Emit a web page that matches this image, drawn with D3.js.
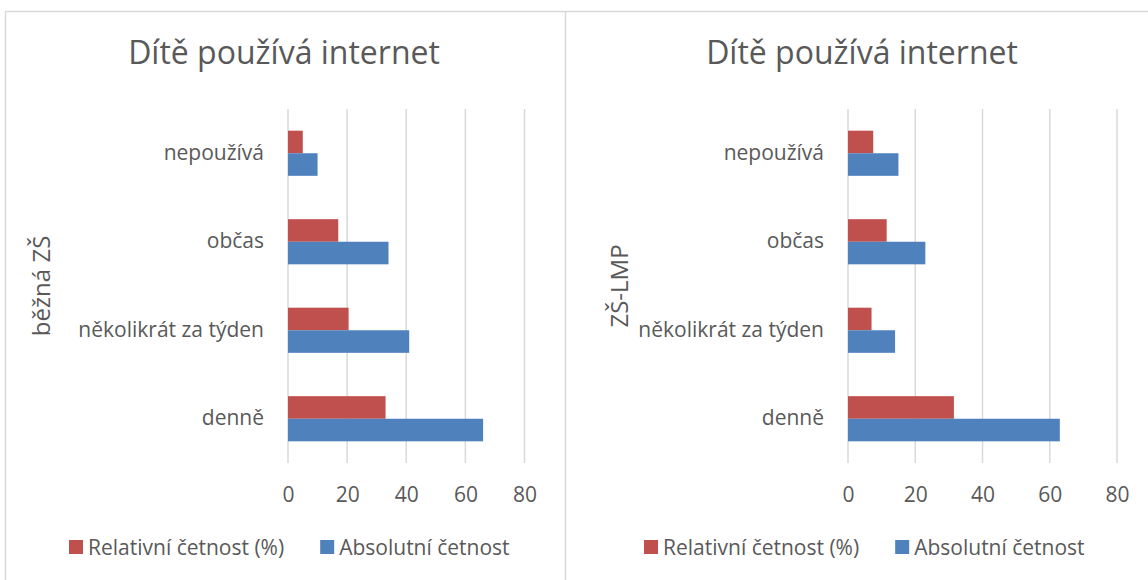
<!DOCTYPE html>
<html>
<head>
<meta charset="utf-8">
<script src="https://cdn.jsdelivr.net/npm/d3@7"></script>
<style>
  html, body { margin: 0; padding: 0; background: #ffffff; }
  svg { display: block; }
  text { font-family: "Open Sans", "Noto Sans", sans-serif; fill: #595959; }
</style>
</head>
<body>
<svg id="chart" width="1148" height="580"></svg>
<script>
// ---- data ----
const categories = ["nepoužívá", "občas", "několikrát za týden", "denně"];
const seriesNames = ["Relativní četnost (%)", "Absolutní četnost"];
const seriesColors = ["#C0504D", "#4F81BD"];
const relBezna = [5, 17, 20.5, 33];
const absBezna = [10, 34, 41, 66];
const relLMP = [7.5, 11.5, 7, 31.5];
const absLMP = [15, 23, 14, 63];
const xTicks = [0, 20, 40, 60, 80];
const chartTitle = "Dítě používá internet";
const axisTitles = ["běžná ZŠ", "ZŠ-LMP"];

const panels = [
  { rel: relBezna, abs: absBezna, axisTitle: axisTitles[0],
    x0: 288, x1: 524.5, titleX: 284, axisTitleX: 50, legendStart: 69 },
  { rel: relLMP, abs: absLMP, axisTitle: axisTitles[1],
    x0: 848, x1: 1117, titleX: 862, axisTitleX: 628, legendStart: 644 }
];

const svg = d3.select("#chart");
const border = "#d9d9d9";

// outer frames
svg.append("line").attr("x1", 5).attr("x2", 1148).attr("y1", 11.5).attr("y2", 11.5)
  .attr("stroke", border).attr("stroke-width", 1.5);
svg.append("line").attr("x1", 5.5).attr("x2", 5.5).attr("y1", 11).attr("y2", 580)
  .attr("stroke", border).attr("stroke-width", 1.5);
svg.append("line").attr("x1", 565.5).attr("x2", 565.5).attr("y1", 11).attr("y2", 580)
  .attr("stroke", border).attr("stroke-width", 1.5);

const yTop = 109, yBottom = 463;

panels.forEach(p => {
  const g = svg.append("g");
  const x = d3.scaleLinear().domain([0, 80]).range([p.x0, p.x1]);
  const y = d3.scaleBand().domain(categories).range([yTop, yBottom])
    .paddingInner(0.49).paddingOuter(0.245);
  const ySub = d3.scaleBand().domain([0, 1]).range([0, y.bandwidth()]);

  // gridlines
  g.selectAll(".grid").data(xTicks).join("line")
    .attr("x1", d => x(d)).attr("x2", d => x(d))
    .attr("y1", yTop).attr("y2", yBottom)
    .attr("stroke", border).attr("stroke-width", 1.5);

  // bars
  const seriesData = [p.rel, p.abs];
  seriesData.forEach((vals, si) => {
    g.selectAll(".bar" + si).data(categories).join("rect")
      .attr("x", x(0))
      .attr("y", (c) => y(c) + ySub(si))
      .attr("width", (c, i) => x(vals[i]) - x(0))
      .attr("height", ySub.bandwidth())
      .attr("fill", seriesColors[si]);
  });

  // x tick labels
  const xAxis = d3.axisBottom(x).tickValues(xTicks).tickSize(0).tickPadding(0);
  const ax = g.append("g").attr("transform", `translate(0, ${yBottom})`).call(xAxis);
  ax.select(".domain").remove();
  ax.selectAll("text").attr("dy", null).attr("y", 39)
    .style("font-size", "21px").style("fill", "#595959")
    .style("font-family", '"Open Sans", sans-serif');

  // category labels
  const yAxis = d3.axisLeft(y).tickSize(0).tickPadding(24);
  const ay = g.append("g").attr("transform", `translate(${p.x0}, 0)`).call(yAxis);
  ay.select(".domain").remove();
  ay.selectAll("text").style("font-size", "21px").style("fill", "#595959")
    .style("font-family", '"Open Sans", sans-serif');

  // title
  g.append("text").attr("x", p.titleX).attr("y", 64).attr("text-anchor", "middle")
    .style("font-size", "32px").text(chartTitle);

  // axis title
  g.append("text")
    .attr("transform", `translate(${p.axisTitleX}, ${(yTop + yBottom) / 2}) rotate(-90)`)
    .attr("text-anchor", "middle")
    .style("font-size", "24px").text(p.axisTitle);

  // legend
  const lg = g.append("g").attr("transform", `translate(${p.legendStart}, 0)`);
  let cx = 0;
  seriesNames.forEach((name, i) => {
    lg.append("rect").attr("x", cx).attr("y", 540).attr("width", 14).attr("height", 14)
      .attr("fill", seriesColors[i]);
    const t = lg.append("text").attr("x", cx + 19).attr("y", 555)
      .style("font-size", "21px").text(name);
    const w = t.node().getComputedTextLength();
    cx += 19 + w + 36;
  });
});
</script>
</body>
</html>
